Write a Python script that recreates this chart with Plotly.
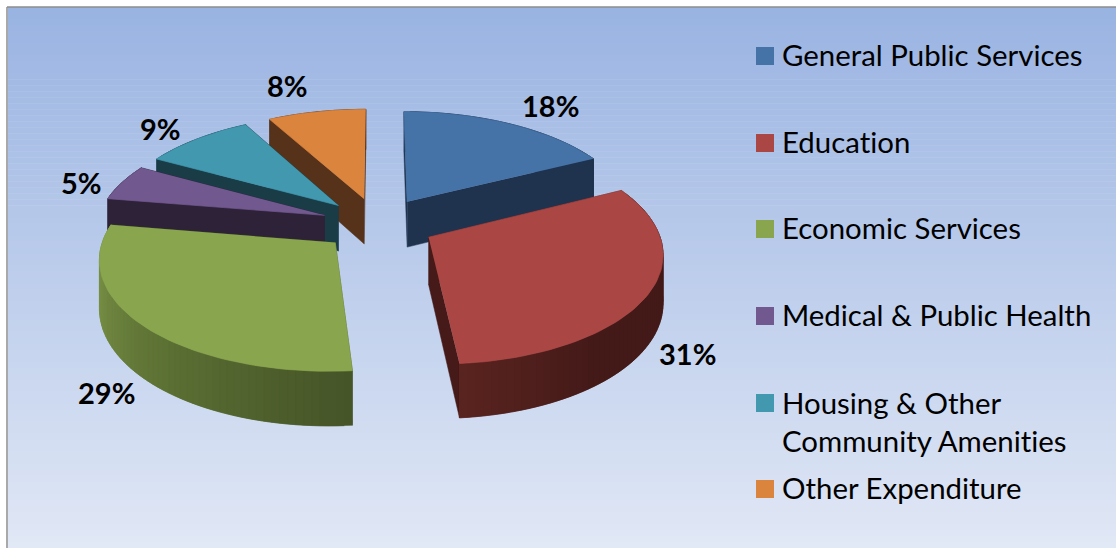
import numpy as np
import plotly.graph_objects as go

categories = ["General Public Services", "Education", "Economic Services",
              "Medical & Public Health", "Housing & Other<br>Community Amenities", "Other Expenditure"]
values = [17.6, 31, 29, 5.4, 9, 8]
colors = ["#4573a7", "#aa4643", "#89a54e", "#71588f", "#4198af", "#db843d"]
cut_colors = ["#1f334e", "#451a18", "#3f4e24", "#2e2238", "#1a3c47", "#57321a"]
wall_stops = [
    [(0, "#1f334e"), (1, "#1f334e")],
    [(0, "#431a18"), (0.7, "#431a18"), (1, "#5a2420")],
    [(0, "#465528"), (0.45, "#5f7436"), (0.85, "#7d9649"), (1, "#7d9649")],
    [(0, "#2e2238"), (1, "#2e2238")],
    [(0, "#1a3c47"), (1, "#1a3c47")],
    [(0, "#57321a"), (1, "#57321a")],
]
legend_y = [56, 143, 229, 316, 403, 489]
label_xy = [(550, 105), (687, 353), (106, 392), (81, 182), (160, 128), (287, 85)]

X0, Y0, B, A, K, H, PULL = 378, 224, 228, 107, 0.128, 46.5, 0.25
W, HT = 1116, 548


def hex2rgb(c):
    return np.array([int(c[i:i + 2], 16) for i in (1, 3, 5)], float)


def shade(stops, t):
    for (a, ca), (b, cb) in zip(stops, stops[1:]):
        if t <= b:
            u = (t - a) / max(b - a, 1e-9)
            r = hex2rgb(ca) * (1 - u) + hex2rgb(cb) * u
            return "rgb(%d,%d,%d)" % tuple(r)
    return stops[-1][1]


def project(x, y, z=0.0):
    d = 1 + K * np.asarray(y)
    return X0 + B * np.asarray(x) / d, Y0 - A * np.asarray(y) / d + H * z / d


def poly(fig, xs, ys, color, lw=0.7):
    fig.add_trace(go.Scatter(x=list(xs), y=list(ys), mode="lines", fill="toself", fillcolor=color,
                             line=dict(color=color, width=lw), hoverinfo="skip", showlegend=False))


fig = go.Figure()

total = sum(values)
edges = np.cumsum([0] + values) / total * 2 * np.pi
slices = []
for i in range(len(values)):
    a0, a1 = edges[i], edges[i + 1]
    mid = (a0 + a1) / 2
    cx, cy = PULL * np.sin(mid), PULL * np.cos(mid)
    slices.append((cy, i, a0, a1, cx, cy))

for _, i, a0, a1, cx, cy in sorted(slices, key=lambda s: -s[0]):
    n = max(8, int((a1 - a0) / 0.03))
    th = np.linspace(a0, a1, n + 1)
    ox, oy = cx + np.sin(th), cy + np.cos(th)
    sides = []
    for a in (a0, a1):
        ex, ey = cx + np.sin(a), cy + np.cos(a)
        sx, sy = project([cx, ex, ex, cx], [cy, ey, ey, cy], np.array([0, 0, 1, 1]))
        sides.append(((cy + ey) / 2, sx, sy, cut_colors[i]))
    for j in range(n):
        e = min(j + 2, n)
        qx = [ox[j], ox[e], ox[e], ox[j]]
        qy = [oy[j], oy[e], oy[e], oy[j]]
        sx, sy = project(qx, qy, np.array([0, 0, 1, 1]))
        sides.append(((oy[j] + oy[j + 1]) / 2, sx, sy, shade(wall_stops[i], (j + 0.5) / n)))
    for _, sx, sy, col in sorted(sides, key=lambda s: -s[0]):
        poly(fig, sx, sy, col, 0.5)
    tx, ty = project(np.r_[cx, ox], np.r_[cy, oy])
    poly(fig, tx, ty, colors[i])

shapes = []
top, bot = hex2rgb("#9ab4e2"), hex2rgb("#e1e8f6")
bands = 90
for b in range(bands):
    u = b / (bands - 1)
    c = top * (1 - u) + bot * u
    shapes.append(dict(type="rect", layer="below", xref="x", yref="y", x0=8, x1=W,
                       y0=7 + (HT - 7) * b / bands, y1=7 + (HT - 7) * (b + 1) / bands + 0.5,
                       fillcolor="rgb(%d,%d,%d)" % tuple(c), line=dict(width=0)))
shapes.append(dict(type="line", xref="x", yref="y", x0=7, x1=W, y0=7, y1=7, line=dict(color="#8c8c8c", width=1.5)))
shapes.append(dict(type="line", xref="x", yref="y", x0=7, x1=7, y0=7, y1=HT, line=dict(color="#8c8c8c", width=1.5)))

annotations = []
for name, col, ly in zip(categories, colors, legend_y):
    shapes.append(dict(type="rect", xref="x", yref="y", x0=756, x1=774, y0=ly - 9, y1=ly + 9,
                       fillcolor=col, line=dict(width=0)))
    two = "<br>" in name
    annotations.append(dict(x=779.5, y=ly - 2, xref="x", yref="y", text=name, showarrow=False, xanchor="left",
                            yanchor="top" if two else "middle", align="left",
                            yshift=18 if two else 0,
                            font=dict(family="Lato", size=29.4, color="#000000")))

for v, (lx, ly) in zip(values, label_xy):
    annotations.append(dict(x=lx, y=ly, xref="x", yref="y", text="<b>%d%%</b>" % round(v), showarrow=False,
                            font=dict(family="Lato", size=29, color="#000000")))

fig.update_layout(
    width=W, height=HT, margin=dict(l=0, r=0, t=0, b=0), autosize=False,
    paper_bgcolor="white", plot_bgcolor="rgba(0,0,0,0)", showlegend=False,
    xaxis=dict(range=[0, W], visible=False, fixedrange=True),
    yaxis=dict(range=[HT, 0], visible=False, fixedrange=True),
    shapes=shapes, annotations=annotations,
)
css = ("document.body.style.margin='0';document.documentElement.style.overflow='hidden';"
       "var s=document.createElement('style');"
       "s.textContent='text{font-variant-ligatures:none !important}';document.head.appendChild(s);")
fig.write_html("out.html", config=dict(displayModeBar=False), post_script=css)
